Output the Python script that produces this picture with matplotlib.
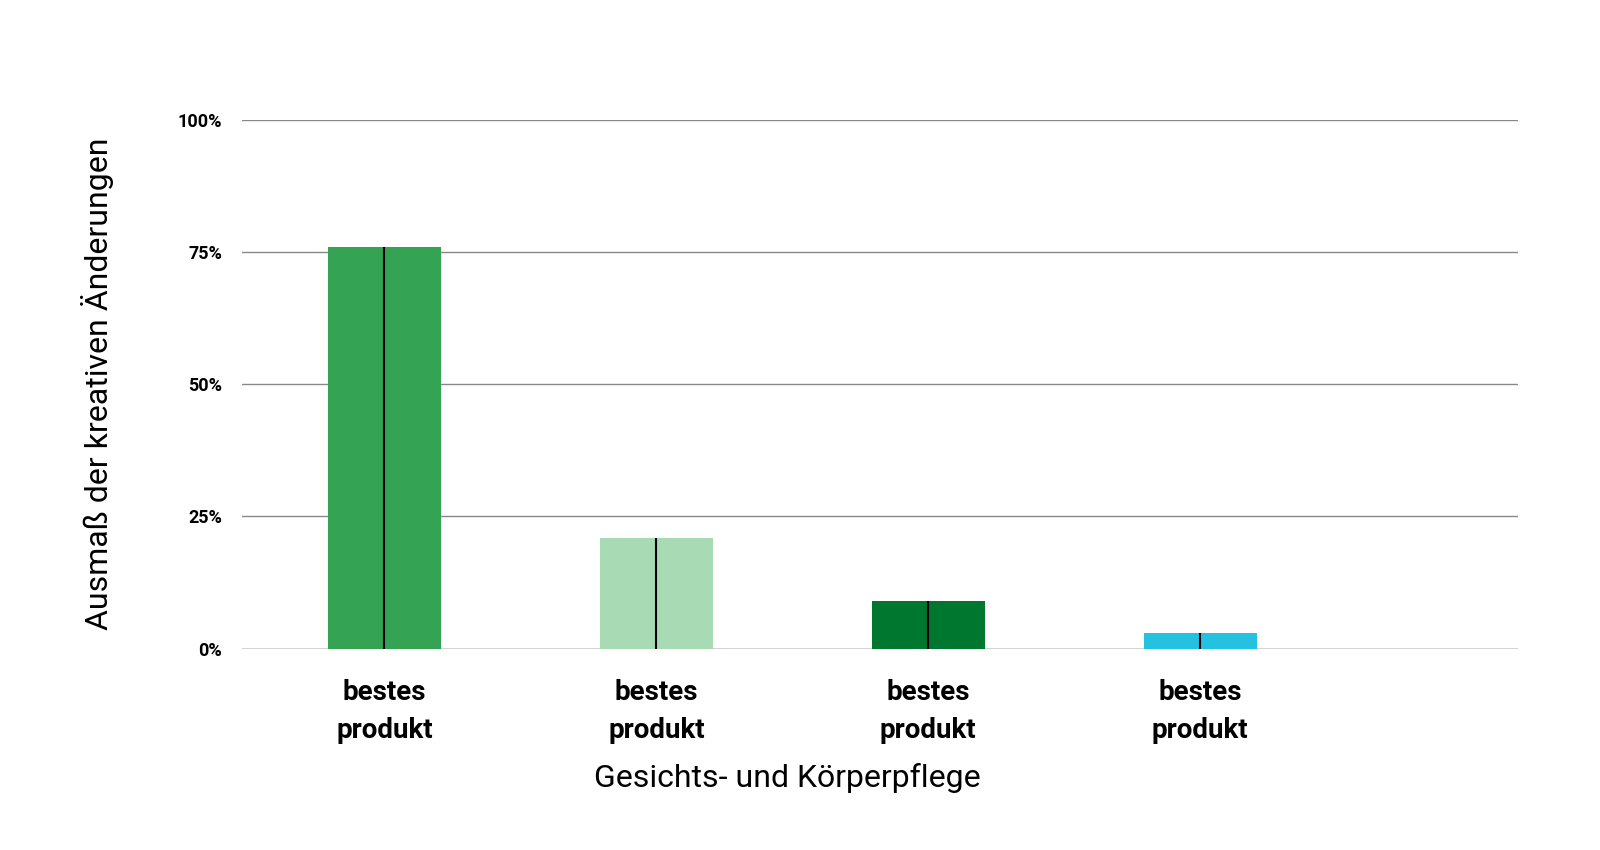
import matplotlib
matplotlib.use("Agg")
import matplotlib.pyplot as plt

categories = ["bestes\nprodukt", "bestes\nprodukt", "bestes\nprodukt", "bestes\nprodukt"]
values = [76, 21, 9, 3]
colors = ["#34a353", "#a8dbb4", "#00772f", "#24c1e0"]
yticks = [0, 25, 50, 75, 100]
ytick_labels = ["0%", "25%", "50%", "75%", "100%"]

fig = plt.figure(figsize=(16, 8.5), dpi=100)
ax = fig.add_axes([0.151, 0.237, 0.798, 0.622])
x = list(range(len(values)))
ax.bar(x, values, width=0.415, color=colors, zorder=2)
ax.vlines(x, 0, values, color="black", linewidth=1.5, zorder=3)
ax.set_xlim(-0.525, 4.17)
ax.set_ylim(0, 100)
ax.set_yticks(yticks)
ax.set_yticklabels(ytick_labels, fontsize=13, fontweight="bold", family="Roboto")
ax.set_xticks(x)
ax.set_xticklabels(categories, fontsize=20, fontweight="bold", family="Roboto", linespacing=1.5)
ax.grid(axis="y", color="#888888", linewidth=1, zorder=0)
ax.axhline(0, color="#888888", linewidth=1, zorder=1)
for s in ax.spines.values():
    s.set_visible(False)
ax.tick_params(axis="y", length=0, pad=14)
ax.tick_params(axis="x", length=0, pad=22)
ax.set_ylabel("Ausmaß der kreativen Änderungen", fontsize=23, family="Roboto")
ax.yaxis.set_label_coords(-0.10, 0.5)
fig.text(0.492, 0.085, "Gesichts- und Körperpflege", fontsize=23, family="Roboto", ha="center", va="center")
fig.savefig("out.png")
